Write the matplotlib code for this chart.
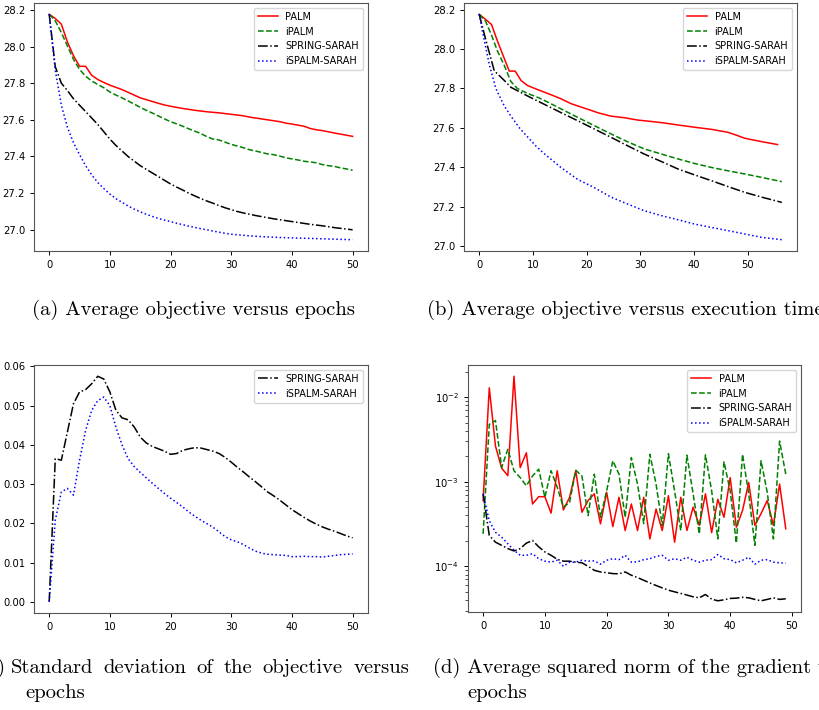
import matplotlib
matplotlib.use("Agg")
import matplotlib.pyplot as plt

# (a) average objective vs epochs
epochs_a = list(range(51))
palm_a = [28.176, 28.153, 28.122, 28.025, 27.950, 27.892, 27.892, 27.843, 27.820, 27.804,
          27.789, 27.777, 27.765, 27.750, 27.735, 27.720, 27.710, 27.700, 27.690, 27.681,
          27.674, 27.668, 27.662, 27.657, 27.652, 27.648, 27.644, 27.641, 27.638, 27.634,
          27.630, 27.626, 27.622, 27.615, 27.610, 27.605, 27.600, 27.595, 27.590, 27.582,
          27.577, 27.571, 27.565, 27.553, 27.546, 27.541, 27.535, 27.528, 27.522, 27.516,
          27.510]
ipalm_a = [28.176, 28.140, 28.076, 28.003, 27.930, 27.875, 27.838, 27.812, 27.793, 27.775,
           27.752, 27.735, 27.720, 27.703, 27.686, 27.668, 27.652, 27.637, 27.621, 27.605,
           27.590, 27.578, 27.565, 27.551, 27.538, 27.525, 27.508, 27.495, 27.490, 27.478,
           27.466, 27.457, 27.448, 27.437, 27.430, 27.422, 27.414, 27.410, 27.402, 27.393,
           27.387, 27.381, 27.374, 27.370, 27.366, 27.356, 27.350, 27.346, 27.338, 27.332,
           27.325]
spring_a = [28.176, 27.890, 27.800, 27.760, 27.715, 27.680, 27.645, 27.610, 27.575, 27.535,
            27.495, 27.460, 27.430, 27.400, 27.375, 27.350, 27.330, 27.310, 27.290, 27.270,
            27.250, 27.233, 27.217, 27.200, 27.185, 27.170, 27.157, 27.145, 27.132, 27.120,
            27.110, 27.100, 27.092, 27.085, 27.078, 27.072, 27.066, 27.060, 27.055, 27.050,
            27.045, 27.040, 27.035, 27.030, 27.026, 27.022, 27.017, 27.012, 27.008, 27.004,
            27.000]
ispalm_a = [28.176, 27.870, 27.680, 27.560, 27.475, 27.410, 27.350, 27.300, 27.258, 27.225,
            27.195, 27.170, 27.150, 27.130, 27.113, 27.098, 27.085, 27.073, 27.062, 27.053,
            27.045, 27.036, 27.028, 27.020, 27.013, 27.006, 27.000, 26.993, 26.987, 26.981,
            26.976, 26.973, 26.970, 26.967, 26.965, 26.963, 26.961, 26.960, 26.958, 26.957,
            26.956, 26.955, 26.954, 26.953, 26.952, 26.951, 26.950, 26.949, 26.948, 26.947,
            26.946]

# (b) average objective vs execution time
palm_time = [0, 1.2, 2.3, 3.4, 4.7, 5.6, 6.7, 7.8, 9.0, 10.9, 13.4, 15.2, 17.1, 19.6,
             22.1, 24.5, 27.0, 29.5, 32.0, 34.5, 37.0, 40.0, 43.2, 46.3, 48.1, 49.4,
             52.5, 55.5]
palm_b = [28.176, 28.150, 28.124, 28.040, 27.950, 27.888, 27.888, 27.840, 27.815, 27.794,
          27.768, 27.748, 27.723, 27.700, 27.677, 27.660, 27.652, 27.640, 27.633, 27.625,
          27.615, 27.604, 27.593, 27.578, 27.561, 27.548, 27.531, 27.516]
ipalm_time = [0, 1.2, 2.3, 3.4, 4.7, 5.9, 7.1, 9.0, 10.9, 12.1, 15.2, 18.3, 21.4, 24.5,
              27.6, 30.7, 33.9, 37.0, 40.1, 43.2, 46.3, 49.4, 52.5, 56.3]
ipalm_b = [28.176, 28.140, 28.070, 27.990, 27.915, 27.835, 27.800, 27.775, 27.755, 27.740,
           27.697, 27.654, 27.612, 27.570, 27.530, 27.494, 27.468, 27.443, 27.420, 27.400,
           27.383, 27.367, 27.350, 27.328]
spring_time = [0, 1.2, 2.8, 4.7, 5.9, 9.0, 12.1, 15.2, 18.3, 21.4, 24.5, 27.6, 30.7,
               33.9, 37.0, 40.1, 43.2, 46.3, 49.4, 52.5, 56.3]
spring_b = [28.176, 28.050, 27.890, 27.840, 27.806, 27.762, 27.720, 27.678, 27.637, 27.595,
            27.553, 27.510, 27.468, 27.430, 27.392, 27.362, 27.333, 27.303, 27.274, 27.250,
            27.223]
ispalm_time = [0, 0.9, 1.9, 3.1, 4.7, 5.9, 7.5, 9.0, 10.5, 12.1, 15.2, 18.3, 21.4, 24.5,
               27.6, 30.7, 33.9, 37.0, 40.1, 43.2, 46.3, 49.4, 52.5, 56.3]
ispalm_b = [28.176, 28.050, 27.920, 27.800, 27.710, 27.660, 27.600, 27.555, 27.510, 27.470,
            27.400, 27.340, 27.298, 27.250, 27.215, 27.181, 27.156, 27.135, 27.113, 27.096,
            27.080, 27.063, 27.046, 27.034]

# (c) standard deviation of the objective vs epochs
spring_c = [0.0, 0.0365, 0.0361, 0.0433, 0.0505, 0.0535, 0.0541, 0.0556, 0.0575, 0.0568,
            0.0535, 0.0488, 0.0469, 0.0464, 0.0446, 0.0420, 0.0405, 0.0396, 0.0390, 0.0384,
            0.0376, 0.0378, 0.0386, 0.0390, 0.0393, 0.0392, 0.0388, 0.0384, 0.0378, 0.0368,
            0.0356, 0.0343, 0.0331, 0.0318, 0.0306, 0.0293, 0.0280, 0.0270, 0.0259, 0.0247,
            0.0235, 0.0225, 0.0215, 0.0206, 0.0198, 0.0191, 0.0185, 0.0180, 0.0174, 0.0168,
            0.0163]
ispalm_c = [0.0, 0.0208, 0.0280, 0.0289, 0.0272, 0.0361, 0.0437, 0.0488, 0.0513, 0.0522,
            0.0500, 0.0445, 0.0400, 0.0365, 0.0345, 0.0330, 0.0316, 0.0302, 0.0289, 0.0276,
            0.0264, 0.0253, 0.0242, 0.0229, 0.0218, 0.0208, 0.0199, 0.0190, 0.0178, 0.0166,
            0.0158, 0.0153, 0.0146, 0.0137, 0.0129, 0.0124, 0.0121, 0.0120, 0.0119, 0.0118,
            0.0115, 0.0115, 0.0116, 0.0115, 0.0115, 0.0114, 0.0116, 0.0118, 0.0120, 0.0121,
            0.0122]

# (d) average squared norm of the gradient vs epochs
epochs_d = list(range(50))
palm_d = [6e-4, 1.29e-2, 2.65e-3, 1.45e-3, 1.18e-3, 1.77e-2, 1.47e-3, 2.2e-3, 5.46e-4, 6.66e-4,
          6.66e-4, 4.26e-4, 1.35e-3, 4.64e-4, 6.55e-4, 1.35e-3, 4.36e-4, 6.0e-4, 7.2e-4, 3.18e-4,
          7.5e-4, 2.95e-4, 6.55e-4, 2.65e-4, 5.46e-4, 2.65e-4, 6.55e-4, 2.11e-4, 4.76e-4, 2.65e-4,
          6.84e-4, 1.93e-4, 6.55e-4, 2.65e-4, 5.0e-4, 3.05e-4, 7.2e-4, 2.5e-4, 6.2e-4, 3.8e-4,
          1.12e-3, 2.9e-4, 4.56e-4, 9.8e-4, 3.05e-4, 4.2e-4, 6.0e-4, 3.05e-4, 9.4e-4, 2.78e-4]
ipalm_d = [2.42e-4, 4.77e-3, 5.3e-3, 1.48e-3, 2.42e-3, 1.35e-3, 1.12e-3, 8.97e-4, 1.17e-3, 1.41e-3,
           6.55e-4, 1.35e-3, 8.6e-4, 5.0e-4, 5.7e-4, 1.37e-3, 1.17e-3, 3.98e-4, 1.23e-3, 3.8e-4,
           7.8e-4, 1.77e-3, 1.23e-3, 3.8e-4, 1.93e-3, 9.4e-4, 3.2e-4, 2.11e-3, 9.4e-4, 3.03e-4,
           2.15e-3, 7.8e-4, 2.65e-4, 2.06e-3, 7.2e-4, 2.42e-4, 2.08e-3, 7.8e-4, 2.11e-4, 1.72e-3,
           7.8e-4, 1.88e-4, 2.11e-3, 7.2e-4, 1.77e-4, 1.77e-3, 7.5e-4, 2.11e-4, 3.03e-3, 1.23e-3]
spring_d = [7.2e-4, 2.32e-4, 1.93e-4, 1.77e-4, 1.62e-4, 1.52e-4, 1.62e-4, 1.88e-4, 2.02e-4, 1.7e-4,
            1.48e-4, 1.35e-4, 1.21e-4, 1.15e-4, 1.15e-4, 1.12e-4, 1.1e-4, 1.0e-4, 8.97e-5, 8.58e-5,
            8.4e-5, 8.2e-5, 8.15e-5, 8.58e-5, 7.84e-5, 7.36e-5, 6.84e-5, 6.36e-5, 5.93e-5, 5.56e-5,
            5.22e-5, 4.99e-5, 4.78e-5, 4.57e-5, 4.36e-5, 4.24e-5, 4.64e-5, 4.09e-5, 3.91e-5, 4.02e-5,
            4.17e-5, 4.2e-5, 4.3e-5, 4.24e-5, 4.06e-5, 3.91e-5, 4.06e-5, 4.24e-5, 4.06e-5, 4.13e-5]
ispalm_d = [7.2e-4, 3.46e-4, 2.53e-4, 2.21e-4, 1.85e-4, 1.55e-4, 1.35e-4, 1.35e-4, 1.41e-4, 1.23e-4,
            1.15e-4, 1.12e-4, 1.18e-4, 1.0e-4, 1.12e-4, 1.12e-4, 1.18e-4, 1.15e-4, 1.16e-4, 1.06e-4,
            1.18e-4, 1.23e-4, 1.2e-4, 1.35e-4, 1.12e-4, 1.13e-4, 1.2e-4, 1.23e-4, 1.31e-4, 1.35e-4,
            1.18e-4, 1.23e-4, 1.18e-4, 1.28e-4, 1.18e-4, 1.12e-4, 1.18e-4, 1.2e-4, 1.38e-4, 1.23e-4,
            1.2e-4, 1.1e-4, 1.18e-4, 1.28e-4, 1.06e-4, 1.18e-4, 1.2e-4, 1.12e-4, 1.1e-4, 1.09e-4]

captions = ["(a) Average objective versus epochs",
            "(b) Average objective versus execution time",
            "(c) Standard deviation of the objective versus",
            "(d) Average squared norm of the gradient versus"]

lw = 1.1
styles = {
    "PALM": dict(color="r", linestyle="-", linewidth=lw),
    "iPALM": dict(color="g", linestyle="--", linewidth=lw),
    "SPRING-SARAH": dict(color="k", linestyle="-.", linewidth=lw),
    "iSPALM-SARAH": dict(color="b", linestyle=":", linewidth=lw),
}

fig = plt.figure(figsize=(8.2, 7.1), dpi=100)
W, H = 820.0, 710.0

ax_a = fig.add_axes([0.0415, 0.6465, 0.407, 0.3493])
ax_b = fig.add_axes([0.5659, 0.6465, 0.406, 0.3493])
ax_c = fig.add_axes([0.0415, 0.1366, 0.407, 0.3493])
ax_d = fig.add_axes([0.5707, 0.1380, 0.406, 0.3479])

ax_a.plot(epochs_a, palm_a, label="PALM", **styles["PALM"])
ax_a.plot(epochs_a, ipalm_a, label="iPALM", **styles["iPALM"])
ax_a.plot(epochs_a, spring_a, label="SPRING-SARAH", **styles["SPRING-SARAH"])
ax_a.plot(epochs_a, ispalm_a, label="iSPALM-SARAH", **styles["iSPALM-SARAH"])

ax_b.plot(palm_time, palm_b, label="PALM", **styles["PALM"])
ax_b.plot(ipalm_time, ipalm_b, label="iPALM", **styles["iPALM"])
ax_b.plot(spring_time, spring_b, label="SPRING-SARAH", **styles["SPRING-SARAH"])
ax_b.plot(ispalm_time, ispalm_b, label="iSPALM-SARAH", **styles["iSPALM-SARAH"])

ax_c.plot(epochs_a, spring_c, label="SPRING-SARAH", **styles["SPRING-SARAH"])
ax_c.plot(epochs_a, ispalm_c, label="iSPALM-SARAH", **styles["iSPALM-SARAH"])

ax_d.plot(epochs_d, palm_d, label="PALM", **styles["PALM"])
ax_d.plot(epochs_d, ipalm_d, label="iPALM", **styles["iPALM"])
ax_d.plot(epochs_d, spring_d, label="SPRING-SARAH", **styles["SPRING-SARAH"])
ax_d.plot(epochs_d, ispalm_d, label="iSPALM-SARAH", **styles["iSPALM-SARAH"])
ax_d.set_yscale("log")

for ax in [ax_a, ax_b, ax_c, ax_d]:
    ax.tick_params(labelsize=7.2, width=0.7, length=3)
    ax.tick_params(which="minor", width=0.5, length=2)
    for s in ax.spines.values():
        s.set_color("#555555")
        s.set_linewidth(0.8)
    ax.legend(loc="upper right", fontsize=7)

cap = dict(fontfamily="cmr10", fontsize=14.8, va="center")
fig.text(32 / W, 1 - 310 / H, captions[0], ha="left", **cap)
fig.text(427 / W, 1 - 310 / H, captions[1], ha="left", **cap)

# caption (c) is justified in the original, spread the words between two edges
renderer = fig.canvas.get_renderer()
words = captions[2].split()
fig.text(5 / W, 1 - 668 / H, words[0], ha="right", **cap)
texts = [fig.text(0, 1 - 668 / H, w_, ha="left", **cap) for w_ in words[1:]]
widths = [t.get_window_extent(renderer).width for t in texts]
left, right = 11.0, 409.0
gap = (right - left - sum(widths)) / (len(texts) - 1)
x = left
for t, w_ in zip(texts, widths):
    t.set_x(x / W)
    x += w_ + gap
fig.text(25 / W, 1 - 693 / H, "epochs", ha="left", **cap)

fig.text(433 / W, 1 - 668 / H, captions[3], ha="left", **cap)
fig.text(467 / W, 1 - 693 / H, "epochs", ha="left", **cap)

fig.savefig("out.png", dpi=100)
